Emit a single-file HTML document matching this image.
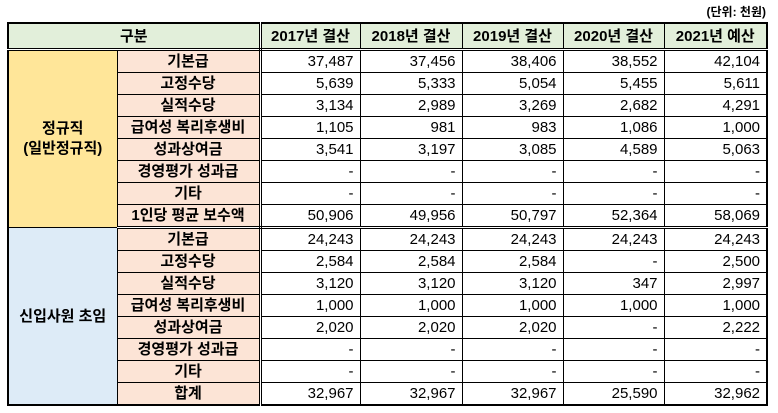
<!DOCTYPE html>
<html><head><meta charset="utf-8"><style>
body{margin:0;width:778px;height:413px;background:#fff;overflow:hidden;font-family:"Liberation Sans","Noto Sans CJK KR","NanumGothic",sans-serif;}
#unit{position:absolute;right:12px;top:3px;font-size:12px;font-weight:bold;color:#000}
table{position:absolute;left:7px;top:22px;border-collapse:collapse;table-layout:fixed;border:2px solid #000;width:761px}
td{border:1px solid #000;height:21px;padding:0 5px;font-size:14px;line-height:21px;white-space:nowrap;overflow:hidden}
.h td{background:#e2efda;font-weight:bold;text-align:center;height:24px;border-bottom:3px double #000;font-size:15px}
.g1{background:#ffe699;font-weight:bold;text-align:center;line-height:20px;font-size:15px}
.g2{background:#ddebf7;font-weight:bold;text-align:center;font-size:15px}
.c{background:#fce4d6;font-weight:bold;text-align:center;border-right:3px double #000;font-size:15px}
.n{text-align:right;padding-right:6px;font-size:15px}
tr.sep td{border-bottom:3px double #000}
</style></head><body>
<div id="unit">(단위: 천원)</div>
<table>
<colgroup><col style="width:109px"><col style="width:143px"><col style="width:100px"><col style="width:102px"><col style="width:101px"><col style="width:101px"><col style="width:103px"></colgroup>
<tr class="h"><td colspan="2" style="border-right:3px double #000">구분</td><td>2017년 결산</td><td>2018년 결산</td><td>2019년 결산</td><td>2020년 결산</td><td>2021년 예산</td></tr>
<tr><td class="g1" rowspan="8">정규직<br>(일반정규직)</td><td class="c">기본급</td><td class="n">37,487</td><td class="n">37,456</td><td class="n">38,406</td><td class="n">38,552</td><td class="n">42,104</td></tr>
<tr><td class="c">고정수당</td><td class="n">5,639</td><td class="n">5,333</td><td class="n">5,054</td><td class="n">5,455</td><td class="n">5,611</td></tr>
<tr><td class="c">실적수당</td><td class="n">3,134</td><td class="n">2,989</td><td class="n">3,269</td><td class="n">2,682</td><td class="n">4,291</td></tr>
<tr><td class="c">급여성 복리후생비</td><td class="n">1,105</td><td class="n">981</td><td class="n">983</td><td class="n">1,086</td><td class="n">1,000</td></tr>
<tr><td class="c">성과상여금</td><td class="n">3,541</td><td class="n">3,197</td><td class="n">3,085</td><td class="n">4,589</td><td class="n">5,063</td></tr>
<tr><td class="c">경영평가 성과급</td><td class="n">-</td><td class="n">-</td><td class="n">-</td><td class="n">-</td><td class="n">-</td></tr>
<tr><td class="c">기타</td><td class="n">-</td><td class="n">-</td><td class="n">-</td><td class="n">-</td><td class="n">-</td></tr>
<tr class="sep"><td class="c">1인당 평균 보수액</td><td class="n">50,906</td><td class="n">49,956</td><td class="n">50,797</td><td class="n">52,364</td><td class="n">58,069</td></tr>
<tr><td class="g2" rowspan="8">신입사원 초임</td><td class="c">기본급</td><td class="n">24,243</td><td class="n">24,243</td><td class="n">24,243</td><td class="n">24,243</td><td class="n">24,243</td></tr>
<tr><td class="c">고정수당</td><td class="n">2,584</td><td class="n">2,584</td><td class="n">2,584</td><td class="n">-</td><td class="n">2,500</td></tr>
<tr><td class="c">실적수당</td><td class="n">3,120</td><td class="n">3,120</td><td class="n">3,120</td><td class="n">347</td><td class="n">2,997</td></tr>
<tr><td class="c">급여성 복리후생비</td><td class="n">1,000</td><td class="n">1,000</td><td class="n">1,000</td><td class="n">1,000</td><td class="n">1,000</td></tr>
<tr><td class="c">성과상여금</td><td class="n">2,020</td><td class="n">2,020</td><td class="n">2,020</td><td class="n">-</td><td class="n">2,222</td></tr>
<tr><td class="c">경영평가 성과급</td><td class="n">-</td><td class="n">-</td><td class="n">-</td><td class="n">-</td><td class="n">-</td></tr>
<tr><td class="c">기타</td><td class="n">-</td><td class="n">-</td><td class="n">-</td><td class="n">-</td><td class="n">-</td></tr>
<tr><td class="c">합계</td><td class="n">32,967</td><td class="n">32,967</td><td class="n">32,967</td><td class="n">25,590</td><td class="n">32,962</td></tr>
</table>
</body></html>
